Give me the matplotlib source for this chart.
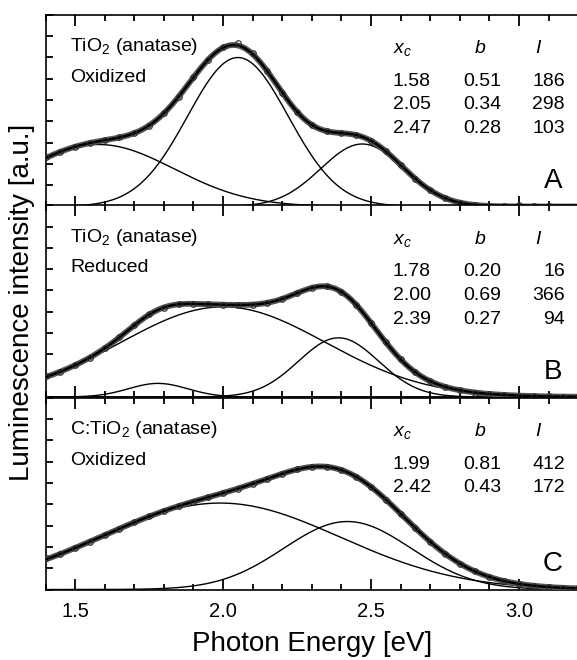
import numpy as np
import matplotlib
matplotlib.use("Agg")
import matplotlib.pyplot as plt

plt.rcParams["font.family"] = ["Liberation Sans", "DejaVu Sans"]
plt.rcParams["mathtext.fontset"] = "custom"
plt.rcParams["mathtext.rm"] = "Liberation Sans"
plt.rcParams["mathtext.it"] = "Liberation Sans:italic"

# ── Measured spectra (read every 0.05 eV from 1.40 to 3.20 eV) ───────────────
energy = np.linspace(1.40, 3.20, 37)

meas_a = [233, 257, 281, 298, 311, 324, 344, 380, 438, 516, 606, 690, 750, 766,
          722, 636, 535, 445, 383, 354, 345, 335, 308, 259, 195, 130, 77, 40,
          18, 7, 3, 3, 5, 4, 1, 0, 0]
meas_b = [100, 119, 149, 185, 229, 282, 338, 388, 420, 435, 437, 435, 433, 432,
          434, 442, 461, 488, 512, 519, 493, 432, 347, 256, 176, 115, 74, 48,
          32, 21, 14, 10, 6, 4, 3, 2, 1]
meas_c = [150, 167, 195, 225, 255, 286, 315, 343, 369, 392, 413, 433, 453, 474,
          497, 520, 544, 564, 576, 576, 561, 529, 481, 422, 355, 288, 224, 168,
          122, 86, 59, 40, 26, 18, 12, 8, 5]

# ── Gaussian fit parameters (centre, width, area) ────────────────────────────
xc_a = [1.58, 2.05, 2.47]
b_a = [0.51, 0.34, 0.28]
i_a = [186, 298, 103]

xc_b = [1.78, 2.00, 2.39]
b_b = [0.20, 0.69, 0.27]
i_b = [16, 366, 94]

xc_c = [1.99, 2.42]
b_c = [0.81, 0.43]
i_c = [412, 172]

titles = ["TiO$_2$ (anatase)", "TiO$_2$ (anatase)", "C:TiO$_2$ (anatase)"]
states = ["Oxidized", "Reduced", "Oxidized"]
letters = ["A", "B", "C"]


def gauss(x, xc, w, area):
    # Origin "Gauss" peak: area-normalised, w = 2 sigma
    return area / (w * np.sqrt(np.pi / 2)) * np.exp(-2 * (x - xc) ** 2 / w ** 2)


panels = [
    (meas_a, xc_a, b_a, i_a),
    (meas_b, xc_b, b_b, i_b),
    (meas_c, xc_c, b_c, i_c),
]

fig = plt.figure(figsize=(5.77, 6.6), dpi=100)
left, width = 45.5 / 577, 532.8 / 577
bottoms = [0.6871, 0.3985, 0.1068]
height = 0.2905

xfine = np.linspace(1.4, 3.2, 600)
fs = 14

for k, (meas, xc, bw, area) in enumerate(panels):
    ax = fig.add_axes([left, bottoms[k], width, height])

    total = np.zeros_like(xfine)
    for c, w, a in zip(xc, bw, area):
        comp = gauss(xfine, c, w, a)
        total += comp
        ax.plot(xfine, comp, color="black", lw=1.0, zorder=2)

    # cumulative fit with the measured points on top
    ax.plot(xfine, total, color="#555555", lw=4.2, solid_capstyle="round", zorder=3)
    ax.plot(xfine, total, color="black", lw=1.8, zorder=4)
    ax.plot(energy, meas, "o", ms=4.0, mfc="none", mec="#2a2a2a", mew=0.8, zorder=5)

    ax.set_xlim(1.4, 3.2)
    ax.set_ylim(0, 900)
    ax.set_xticks([1.5, 2.0, 2.5, 3.0])
    ax.set_xticks(np.arange(1.4, 3.21, 0.1), minor=True)
    ax.set_yticks(np.arange(0, 901, 100))
    ax.set_yticklabels([])
    ax.tick_params(axis="x", which="major", direction="in", length=8, width=1.3,
                   top=True, labelsize=14.5, pad=9)
    ax.tick_params(axis="x", which="minor", direction="in", length=4.3, width=1.3,
                   top=True)
    ax.tick_params(axis="y", direction="in", length=5, width=1.3, right=False)
    for sp in ax.spines.values():
        sp.set_linewidth(1.2)
    if k < 2:
        ax.set_xticklabels([])
    else:
        ax.set_xticklabels(["1.5", "2.0", "2.5", "3.0"])
        ax.set_xlabel("Photon Energy [eV]", fontsize=20, labelpad=7)

    # sample name
    ax.text(0.046, 0.81, titles[k], transform=ax.transAxes, fontsize=fs, va="baseline")
    ax.text(0.046, 0.652, states[k], transform=ax.transAxes, fontsize=fs, va="baseline")

    # fit-parameter table
    ax.text(0.652, 0.80, "$x_c$", transform=ax.transAxes, fontsize=fs, va="baseline")
    ax.text(0.816, 0.80, "$b$", transform=ax.transAxes, fontsize=fs, va="baseline",
            ha="center")
    ax.text(0.925, 0.80, "$I$", transform=ax.transAxes, fontsize=fs, va="baseline",
            ha="center")
    for r, (c, w, a) in enumerate(zip(xc, bw, area)):
        yy = 0.630 - r * 0.124
        ax.text(0.652, yy, f"{c:.2f}", transform=ax.transAxes, fontsize=fs, va="baseline")
        ax.text(0.819, yy, f"{w:.2f}", transform=ax.transAxes, fontsize=fs, va="baseline",
                ha="center")
        ax.text(0.975, yy, f"{a}", transform=ax.transAxes, fontsize=fs, va="baseline",
                ha="right")

    ax.text(0.9525, 0.095, letters[k], transform=ax.transAxes, fontsize=20,
            va="baseline", ha="center")

fig.text(22 / 577, 0.542, "Luminescence intensity [a.u.]", rotation=90,
         fontsize=20, ha="center", va="center")

fig.savefig("out.png", dpi=100)
